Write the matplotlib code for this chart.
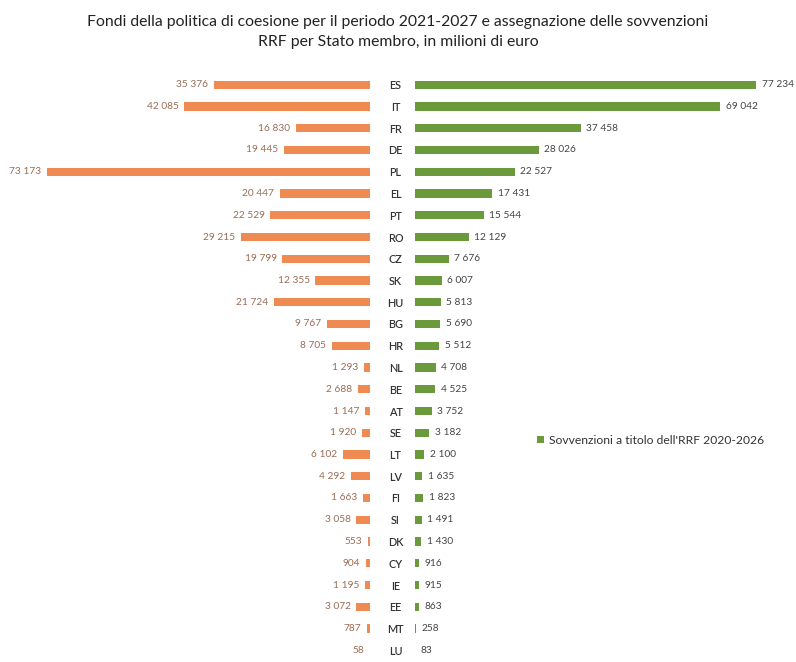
import matplotlib
matplotlib.use("Agg")
import matplotlib.pyplot as plt
import numpy as np

plt.rcParams['font.family'] = ['Lato', 'DejaVu Sans']

# dati (milioni di euro)
paesi = ["ES", "IT", "FR", "DE", "PL", "EL", "PT", "RO", "CZ", "SK", "HU", "BG", "HR", "NL",
         "BE", "AT", "SE", "LT", "LV", "FI", "SI", "DK", "CY", "IE", "EE", "MT", "LU"]
coesione = [35376, 42085, 16830, 19445, 73173, 20447, 22529, 29215, 19799, 12355, 21724, 9767,
            8705, 1293, 2688, 1147, 1920, 6102, 4292, 1663, 3058, 553, 904, 1195, 3072, 787, 58]
rrf = [77234, 69042, 37458, 28026, 22527, 17431, 15544, 12129, 7676, 6007, 5813, 5690, 5512,
       4708, 4525, 3752, 3182, 2100, 1635, 1823, 1491, 1430, 916, 915, 863, 258, 83]
legenda_rrf = "Sovvenzioni a titolo dell'RRF 2020-2026"
titolo = ("Fondi della politica di coesione per il periodo 2021-2027 e assegnazione delle sovvenzioni\n"
          "RRF per Stato membro, in milioni di euro")

arancio = "#EE8A52"
verde = "#6B9A3C"

W, H = 796, 662
fig = plt.figure(figsize=(W / 100, H / 100), dpi=100)
scala = 0.00442  # pixel per milione, uguale nei due lati

# asse sinistro: barre verso sinistra, finiscono a x=370
sx0, sx1 = 30, 370
dx0, dx1 = 415, 792
top, bot = 63, 662
passo = 21.75
ax_l = fig.add_axes([sx0 / W, 1 - bot / H, (sx1 - sx0) / W, (bot - top) / H])
ax_r = fig.add_axes([dx0 / W, 1 - bot / H, (dx1 - dx0) / W, (bot - top) / H])

y = np.arange(len(paesi))
righe = (bot - top) / passo
for ax in (ax_l, ax_r):
    ax.set_ylim(-1 + righe, -1)
    for s in ax.spines.values():
        s.set_visible(False)
    ax.set_xticks([])

ax_l.set_xlim((sx1 - sx0) / scala, 0)
ax_r.set_xlim(0, (dx1 - dx0) / scala)

ax_l.barh(y, coesione, height=0.37, color=arancio)
ax_r.barh(y, rrf, height=0.37, color=verde, label=legenda_rrf)

def fmt(v):
    return f"{v:,}".replace(",", " ")

for i, v in enumerate(coesione):
    ax_l.annotate(fmt(v), (v, i), xytext=(-4, 0), textcoords="offset points",
                  ha="right", va="center", fontsize=7.3, color="#9a6c55")
for i, v in enumerate(rrf):
    ax_r.annotate(fmt(v), (v, i), xytext=(4, 0), textcoords="offset points",
                  ha="left", va="center", fontsize=7.3, color="#444444")

ax_l.set_yticks([])
ax_r.set_yticks(y)
ax_r.set_yticklabels(paesi, ha="center", fontsize=7.8, color="#333333", fontweight="semibold")
ax_r.tick_params(axis="y", length=0, pad=14)

ax_r.legend(loc="center left", bbox_to_anchor=(0.295, 0.37), frameon=False, fontsize=8.7,
            handlelength=0.6, handleheight=0.6, handletextpad=0.4, labelcolor="#333333")

fig.text(0.5, 1 - 32 / H, titolo, ha="center", va="center", fontsize=11.3,
         color="#222222", linespacing=1.55)

fig.savefig("out.png", dpi=100, facecolor="white")
